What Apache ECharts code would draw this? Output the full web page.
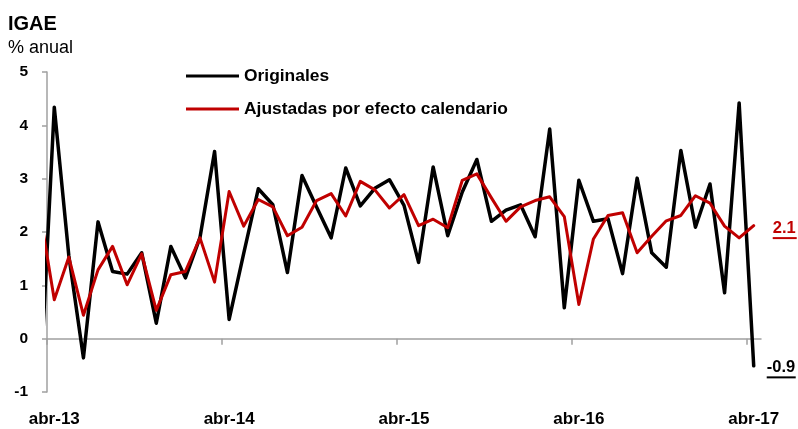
<!DOCTYPE html>
<html>
<head>
<meta charset="utf-8">
<title>IGAE</title>
<script src="https://cdn.jsdelivr.net/npm/echarts@6/dist/echarts.min.js"></script>
<style>
  html, body { margin: 0; padding: 0; background: #fff; }
  #igae-echarts { width: 798px; height: 429px; }
</style>
</head>
<body>
<div id="igae-echarts"></div>
<script>
// meses: mar-13 queda fuera del area (solo se ve el tramo recortado)
const meses = [
  "mar-13", "abr-13", "may-13", "jun-13", "jul-13", "ago-13", "sep-13", "oct-13", "nov-13", "dic-13",
  "ene-14", "feb-14", "mar-14", "abr-14", "may-14", "jun-14", "jul-14", "ago-14", "sep-14", "oct-14",
  "nov-14", "dic-14", "ene-15", "feb-15", "mar-15", "abr-15", "may-15", "jun-15", "jul-15", "ago-15",
  "sep-15", "oct-15", "nov-15", "dic-15", "ene-16", "feb-16", "mar-16", "abr-16", "may-16", "jun-16",
  "jul-16", "ago-16", "sep-16", "oct-16", "nov-16", "dic-16", "ene-17", "feb-17", "mar-17", "abr-17"
];
const originales = [
  -1.1, 4.34, 1.55, -0.36, 2.19, 1.26, 1.21, 1.61, 0.29, 1.73,
  1.14, 1.9, 3.51, 0.36, 1.6, 2.81, 2.51, 1.24, 3.06, 2.47,
  1.89, 3.2, 2.49, 2.82, 2.98, 2.5, 1.43, 3.22, 1.93, 2.75,
  3.36, 2.2, 2.41, 2.51, 1.91, 3.93, 0.58, 2.97, 2.2, 2.25,
  1.22, 3.01, 1.61, 1.34, 3.53, 2.09, 2.9, 0.86, 4.42, -0.51
];
const ajustadas = [
  2.4, 0.73, 1.53, 0.44, 1.29, 1.73, 1.01, 1.59, 0.53, 1.2,
  1.26, 1.89, 1.06, 2.76, 2.11, 2.61, 2.47, 1.93, 2.09, 2.59,
  2.72, 2.3, 2.95, 2.79, 2.45, 2.7, 2.12, 2.24, 2.08, 2.97,
  3.09, 2.64, 2.2, 2.47, 2.59, 2.66, 2.29, 0.64, 1.87, 2.31,
  2.36, 1.61, 1.92, 2.21, 2.31, 2.68, 2.54, 2.11, 1.89, 2.12
];
// etiquetas del eje x (cada abril) y de los ultimos datos
const etiquetasX = ["abr-13", "abr-14", "abr-15", "abr-16", "abr-17"];
const etiquetaOriginales = "-0.9";
const etiquetaAjustadas = "2.1";

const fuente = "Liberation Sans";
const gris = "#a0a0a0";

// posicion de cada mes: abr-13 = 0
const toPairs = arr => arr.map((v, i) => [i - 1, v]);
const posEtiquetas = etiquetasX.map(t => meses.indexOf(t) - 1);
const posTicks = posEtiquetas.map(p => p - 0.5);

function endLabel (texto, color, ancho, dist, dy) {
  return {
    show: true,
    distance: dist,
    offset: [0, dy],
    formatter: () => "{t|" + texto + "}\n{u| }",
    rich: {
      t: { fontFamily: fuente, fontSize: 16.5, fontWeight: "bold", color: color, lineHeight: 17 },
      u: { width: ancho, height: 2, lineHeight: 3, fontSize: 2, backgroundColor: color }
    }
  };
}

const myChart = echarts.init(document.getElementById("igae-echarts"), null, { renderer: "canvas" });
const option = {
  animation: false,
  backgroundColor: "#fff",
  textStyle: { fontFamily: fuente },
  title: {
    text: "IGAE",
    subtext: "% anual",
    left: 8,
    top: 14,
    padding: 0,
    itemGap: 5,
    textStyle: { fontFamily: fuente, fontSize: 20, fontWeight: "bold", color: "#000", lineHeight: 20 },
    subtextStyle: { fontFamily: fuente, fontSize: 18, color: "#000", lineHeight: 18 }
  },
  legend: {
    orient: "vertical",
    left: 186,
    top: 66,
    padding: 0,
    icon: "rect",
    itemWidth: 53,
    itemHeight: 3,
    itemGap: 13,
    textStyle: { fontFamily: fuente, fontSize: 17.4, fontWeight: "bold", color: "#000", lineHeight: 20 },
    data: ["Originales", "Ajustadas por efecto calendario"]
  },
  grid: { left: 47, right: 37, top: 72, bottom: 37, containLabel: false },
  xAxis: [
    {
      // etiquetas abajo
      type: "value",
      min: -0.5,
      max: meses.length - 1.5,
      position: "bottom",
      axisLine: { show: false, onZero: false },
      axisTick: { show: false },
      splitLine: { show: false },
      axisLabel: {
        customValues: posEtiquetas,
        formatter: v => meses[v + 1],
        margin: 19,
        fontFamily: fuente,
        fontSize: 17,
        fontWeight: "bold",
        color: "#000"
      }
    },
    {
      // linea en cero con marcas
      type: "value",
      min: -0.5,
      max: meses.length - 1.5,
      position: "bottom",
      axisLine: { show: true, onZero: true, lineStyle: { color: gris, width: 1.5 } },
      axisTick: { show: true, customValues: posTicks, length: 6, lineStyle: { color: gris, width: 1.5 } },
      axisLabel: { show: false },
      splitLine: { show: false }
    }
  ],
  yAxis: {
    type: "value",
    min: -1,
    max: 5,
    interval: 1,
    axisLine: { show: true, onZero: false, lineStyle: { color: gris, width: 1.5 } },
    axisTick: { show: true, inside: false, length: 5, lineStyle: { color: gris, width: 1.5 } },
    splitLine: { show: false },
    axisLabel: { margin: 19, fontFamily: fuente, fontSize: 15.5, fontWeight: "bold", color: "#000" }
  },
  series: [
    {
      name: "Originales",
      type: "line",
      xAxisIndex: 0,
      symbol: "none",
      clip: true,
      itemStyle: { color: "#000" },
      lineStyle: { color: "#000", width: 3.5, join: "round", cap: "round" },
      endLabel: endLabel(etiquetaOriginales, "#000", 29, 13, 3),
      data: toPairs(originales)
    },
    {
      name: "Ajustadas por efecto calendario",
      type: "line",
      xAxisIndex: 0,
      symbol: "none",
      clip: true,
      itemStyle: { color: "#c00000" },
      lineStyle: { color: "#c00000", width: 3, join: "round", cap: "round" },
      endLabel: endLabel(etiquetaAjustadas, "#c00000", 24, 19, 4),
      data: toPairs(ajustadas)
    }
  ]
};
myChart.setOption(option);
window.addEventListener("resize", () => myChart.resize());
</script>
</body>
</html>
